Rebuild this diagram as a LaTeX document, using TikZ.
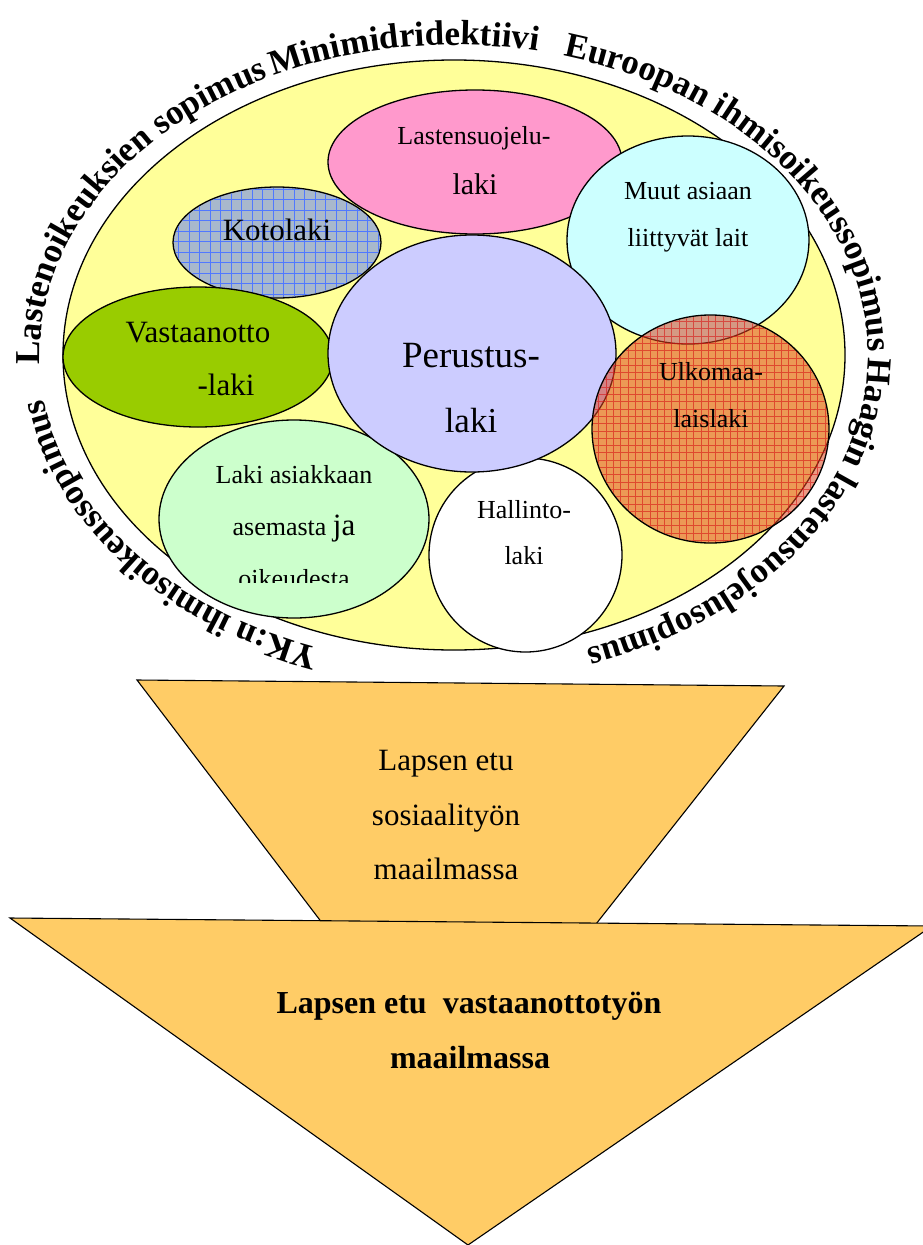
\documentclass[tikz,border=0pt]{standalone}
\usepackage{fontspec}
\setmainfont{Liberation Serif}
\usetikzlibrary{shapes.geometric,decorations.text}

\definecolor{ringyellow}{HTML}{FFFF99}
\definecolor{suojelupink}{HTML}{FF99CC}
\definecolor{muutcyan}{HTML}{CCFFFF}
\definecolor{kotogray}{RGB}{168,184,204}
\definecolor{kotoblue}{RGB}{80,120,255}
\definecolor{vastgreen}{HTML}{99CC00}
\definecolor{asiakgreen}{HTML}{CCFFCC}
\definecolor{perulilac}{HTML}{CCCCFF}
\definecolor{ulkored}{RGB}{222,70,30}
\definecolor{ulkogrid}{RGB}{215,20,20}
\definecolor{etuorange}{HTML}{FFCC66}

\newcommand\fsz[1]{\fontsize{#1}{#1}\selectfont}
\newcommand\ringfont{\bfseries\fsz{35}}

\tikzset{
  law/.style={ellipse, draw=black, line width=1.3pt, inner sep=0pt},
  lawtext/.style={anchor=base, inner sep=0pt, font=\fsz{26}},
  ringtext/.style={decorate, decoration={text along path, text align=left, text={|\ringfont|#1}}},
  funnel/.style={draw=black, line width=1.1pt, fill=etuorange},
}

\begin{document}
\begin{tikzpicture}[x=1pt, y=-1pt]
\useasboundingbox (0,0) rectangle (923,1245);

% outer ring
\coordinate (ctr) at (454,355);
\node[law, fill=ringyellow, minimum width=782pt, minimum height=590pt] (ring) at (ctr) {};

\path[ringtext={Lastenoikeuksien sopimus}] ([shift={(ctr)}]181.8:414pt and 310pt)
    arc[start angle=181.8, delta angle=-80, x radius=414pt, y radius=310pt];
\path[ringtext={Minimidridektiivi}] ([shift={(ctr)}]115.9:414pt and 310pt)
    arc[start angle=115.9, delta angle=-50, x radius=414pt, y radius=310pt];
\path[ringtext={Euroopan ihmisoikeussopimus}] ([shift={(ctr)}]74.7:414pt and 310pt)
    arc[start angle=74.7, delta angle=-85, x radius=414pt, y radius=310pt];
\path[ringtext={Haagin lastensuojelusopimus}] ([shift={(ctr)}]-0.5:414pt and 310pt)
    arc[start angle=-0.5, delta angle=-85, x radius=414pt, y radius=310pt];
\path[ringtext={YK:n ihmisoikeussopimus}] ([shift={(ctr)}]-108.9:414pt and 310pt)
    arc[start angle=-108.9, delta angle=-80, x radius=414pt, y radius=310pt];

% laws
\node[law, fill=suojelupink, minimum width=294pt, minimum height=144pt] (suoj) at (475,162) {};
\node[law, fill=muutcyan, minimum width=242pt, minimum height=208pt] (muut) at (688,240) {};

\node[law, fill=kotogray, minimum width=208pt, minimum height=111pt] (koto) at (277,242.5) {};
\begin{scope}
  \clip (277,242.5) ellipse [x radius=103pt, y radius=54.5pt];
  \draw[kotoblue, line width=0.5pt, step=10.5pt] (160,180) grid (400,310);
\end{scope}

\node[law, fill=vastgreen, minimum width=270pt, minimum height=140pt] (vast) at (198,357) {};
\node[law, fill=asiakgreen, minimum width=270pt, minimum height=198pt] (asiak) at (294,519) {};
\node[law, fill=white, minimum width=193pt, minimum height=194pt] (hall) at (525.5,555) {};
\node[law, fill=perulilac, minimum width=288pt, minimum height=237pt] (peru) at (472,353.5) {};

\node[law, fill=ulkored, fill opacity=0.55, minimum width=237pt, minimum height=228pt] (ulko) at (710.5,429) {};
\begin{scope}
  \clip (710.5,429) ellipse [x radius=117.5pt, y radius=113pt];
  \draw[ulkogrid, opacity=0.6, line width=0.4pt, step=7.3pt] (585,310) grid (835,550);
\end{scope}

% law texts
\node[lawtext] (suoj1) at (474,144) {Lastensuojelu-};
\node[lawtext, font=\fsz{30}] (suoj2) at (475,194) {laki};
\node[lawtext] (muut1) at (688,199) {Muut asiaan};
\node[lawtext] (muut2) at (688,246) {liittyvät lait};
\node[lawtext, font=\fsz{31}] (koto1) at (277,240) {Kotolaki};
\node[lawtext, font=\fsz{31}] (vast1) at (198,342) {Vastaanotto};
\node[lawtext, font=\fsz{31}] (vast2) at (226,395) {-laki};
\node[lawtext, font=\fsz{37}] (peru1) at (471,367) {Perustus-};
\node[lawtext, font=\fsz{35}] (peru2) at (471,432) {laki};
\node[lawtext] (ulko1) at (711,380) {Ulkomaa-};
\node[lawtext] (ulko2) at (711,427) {laislaki};
\node[lawtext] (asiak1) at (294,483) {Laki asiakkaan};
\node[lawtext] (asiak2) at (294,535) {asemasta {\fsz{31}ja}};
\begin{scope}
  \clip (150,540) rectangle (440,582);
  \node[lawtext] (asiak3) at (294,587) {oikeudesta};
\end{scope}
\node[lawtext] (hall1) at (524,518) {Hallinto-};
\node[lawtext] (hall2) at (524,564) {laki};

% funnels
\coordinate (upL) at (137,680);
\coordinate (upR) at (784,686);
\coordinate (upA) at (457,1100);
\draw[funnel] (upL) -- (upR) -- (upA) -- cycle;

\coordinate (loL) at (10,918);
\coordinate (loR) at (932,926);
\coordinate (loA) at (468,1245);
\draw[funnel] (loL) -- (loR) -- (loA) -- cycle;

\node[lawtext, font=\fsz{31}] (sos1) at (446,770) {Lapsen etu};
\node[lawtext, font=\fsz{31}] (sos2) at (446,825) {sosiaalityön};
\node[lawtext, font=\fsz{31}] (sos3) at (446,879) {maailmassa};

\node[lawtext, font=\bfseries\fsz{32}] (vas1) at (469,1013) {Lapsen etu~ vastaanottotyön};
\node[lawtext, font=\bfseries\fsz{32}] (vas2) at (470,1068) {maailmassa};
\end{tikzpicture}
\end{document}
